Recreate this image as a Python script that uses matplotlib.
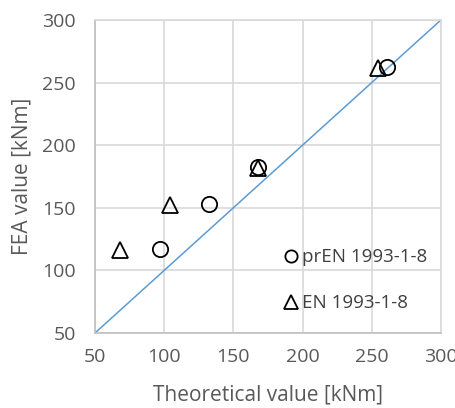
import numpy as np
import matplotlib
matplotlib.use("Agg")
import matplotlib.pyplot as plt

plt.rcParams['font.family'] = ['Open Sans', 'DejaVu Sans']

# data
pren_x = [97, 132.5, 168, 261]
pren_y = [117, 153, 182.5, 262.5]
en_x = [68, 104, 168, 254.5]
en_y = [116.5, 152.5, 182, 262]
line_x = [50, 300]

grey = "#595959"

fig = plt.figure(figsize=(4.55, 4.08), dpi=100)
ax = fig.add_axes([0.209, 0.184, 0.76, 0.767])

ax.plot(line_x, line_x, color="#5B9BD5", lw=1.1, zorder=2)
ax.plot(pren_x, pren_y, ls="none", marker="o", ms=11, mfc="none", mec="black",
        mew=1.3, label="prEN 1993-1-8", zorder=3)
ax.plot(en_x, en_y, ls="none", marker="^", ms=12, mfc="none", mec="black",
        mew=1.3, label="EN 1993-1-8", zorder=3)

ax.set_xlim(50, 300)
ax.set_ylim(50, 300)
ticks = [50, 100, 150, 200, 250, 300]
ax.set_xticks(ticks)
ax.set_yticks(ticks)
ax.grid(True, color="#d9d9d9", lw=1.2)
ax.set_axisbelow(True)
for s in ax.spines.values():
    s.set_color("#d9d9d9")
    s.set_linewidth(1.2)
ax.spines["left"].set_color("#bfbfbf")
ax.spines["bottom"].set_color("#bfbfbf")
ax.tick_params(length=0, labelsize=14, colors=grey)
ax.tick_params(axis="y", pad=14)
ax.tick_params(axis="x", pad=11)

ax.set_xlabel("Theoretical value [kNm]", fontsize=15, color=grey, labelpad=13)
ax.set_ylabel("FEA value [kNm]", fontsize=15, color=grey, labelpad=7)

leg = ax.legend(loc="center left", bbox_to_anchor=(0.55, 0.168), frameon=False,
                fontsize=13.5, handlelength=0.6, handletextpad=0.3,
                labelspacing=1.5, borderaxespad=0, borderpad=0, markerscale=0.8)
for t in leg.get_texts():
    t.set_color("#404040")

fig.savefig("out.png", dpi=100)
